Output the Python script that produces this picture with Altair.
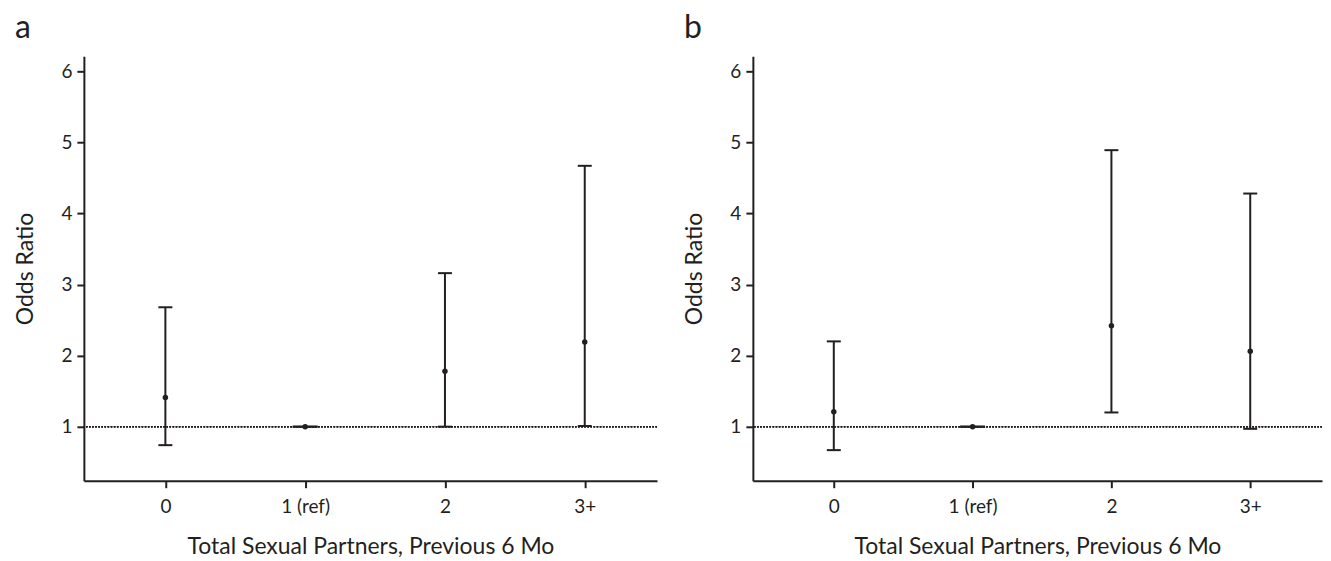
import altair as alt
import pandas as pd

INK = "#231f20"
FONT = "Lato"

categories = ["0", "1 (ref)", "2", "3+"]

# Panel a
a_or = [1.41, 1.00, 1.78, 2.19]
a_lo = [0.74, 1.00, 1.00, 1.01]
a_hi = [2.68, 1.00, 3.16, 4.67]

# Panel b
b_or = [1.21, 1.00, 2.42, 2.06]
b_lo = [0.67, 1.00, 1.20, 0.97]
b_hi = [2.20, 1.00, 4.89, 4.28]

y_ticks = [1, 2, 3, 4, 5, 6]
x_title = "Total Sexual Partners, Previous 6 Mo"
y_title = "Odds Ratio"


def panel(label, ors, los, his, width):
    df = pd.DataFrame({"cat": categories, "or": ors, "lo": los, "hi": his})
    yscale = alt.Scale(domain=[0.24, 6.21], nice=False, zero=False)
    xenc = alt.X(
        "cat:N",
        sort=categories,
        scale=alt.Scale(type="point", padding=0.55, align=0.53),
        axis=alt.Axis(
            title=x_title,
            labelAngle=0,
            labelPadding=10,
            titlePadding=19,
            titleFontSize=23,
        ),
    )
    yaxis = alt.Axis(title=y_title, values=y_ticks, labelPadding=5, titlePadding=23)
    base = alt.Chart(df)
    refline = base.mark_rule(
        strokeDash=[1.5, 1.6], strokeWidth=1.5, color=INK
    ).encode(y=alt.Y(datum=1, type="quantitative", scale=yscale, axis=yaxis))
    bars = base.mark_rule(strokeWidth=2, color=INK).encode(
        x=xenc,
        y=alt.Y("lo:Q", scale=yscale, axis=yaxis),
        y2="hi:Q",
    )
    cap_size = alt.condition(
        alt.datum.cat == "1 (ref)", alt.value(25), alt.value(14)
    )
    cap_lo = base.mark_tick(thickness=2, color=INK, opacity=1).encode(
        x=xenc, y=alt.Y("lo:Q", scale=yscale, axis=yaxis), size=cap_size
    )
    cap_hi = base.mark_tick(thickness=2, color=INK, opacity=1).encode(
        x=xenc, y=alt.Y("hi:Q", scale=yscale, axis=yaxis), size=cap_size
    )
    pts = base.mark_circle(size=30, color=INK, opacity=1).encode(
        x=xenc, y=alt.Y("or:Q", scale=yscale, axis=yaxis)
    )
    return alt.layer(refline, bars, cap_lo, cap_hi, pts).properties(
        width=width,
        height=425,
        title=alt.Title(
            label,
            anchor="start",
            fontSize=32,
            fontWeight="normal",
            font=FONT,
            color=INK,
            offset=11,
        ),
    )


chart = (
    alt.hconcat(
        panel("a", a_or, a_lo, a_hi, 574),
        panel("b", b_or, b_lo, b_hi, 570),
        spacing=25,
    )
    .properties(padding={"left": 6, "top": 4, "right": 0, "bottom": 0})
    .configure_view(stroke=None)
    .configure_axis(
        grid=False,
        domainColor=INK,
        domainWidth=2,
        tickColor=INK,
        tickWidth=2,
        tickSize=7,
        labelFont=FONT,
        labelFontSize=19,
        labelColor=INK,
        titleFont=FONT,
        titleFontSize=23,
        titleFontWeight="normal",
        titleColor=INK,
    )
)

chart.save("out.html", embed_options={"renderer": "svg", "actions": False})
